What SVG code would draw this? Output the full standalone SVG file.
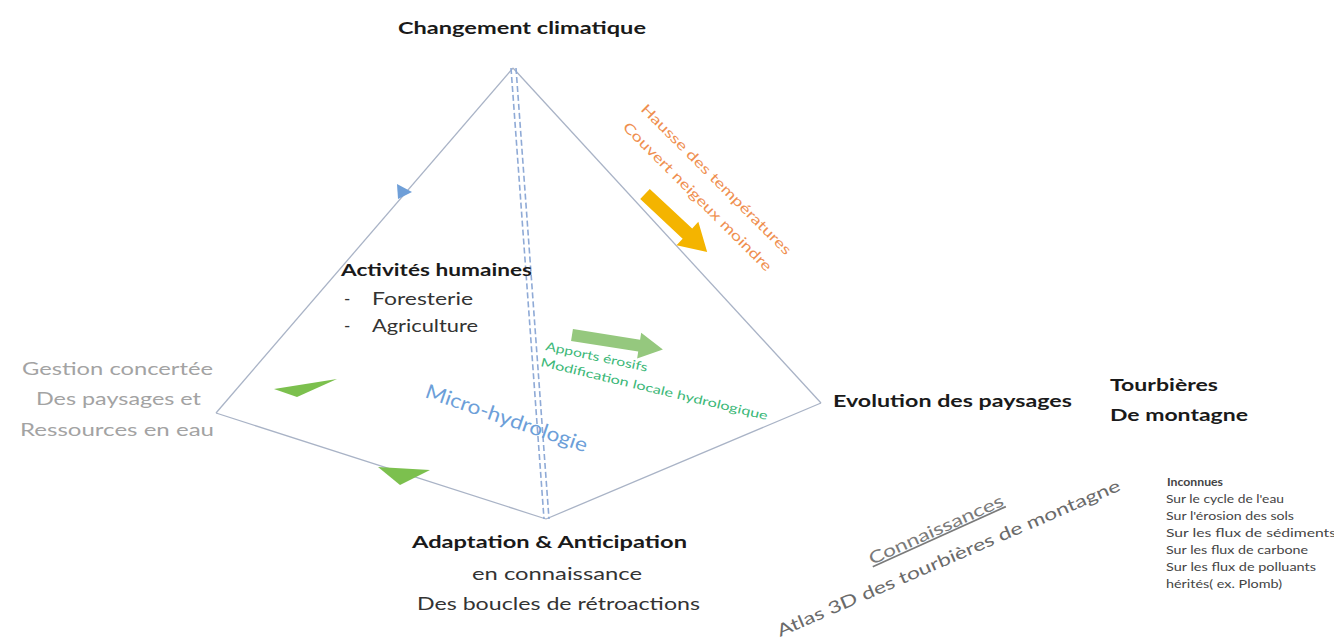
<svg xmlns="http://www.w3.org/2000/svg" width="1334" height="644" viewBox="0 0 1334 644">
<style>
text{font-family:Lato,"Open Sans","Liberation Sans",sans-serif}
.b{font-weight:bold;fill:#1a1a1a;font-size:17px}
.n{fill:#333;font-size:17px}
.g{fill:#a3a3a3;font-size:17px}
.edge{stroke:#a9b3c6;stroke-width:1.3;fill:none}
.dash{stroke:#8faad6;stroke-width:1.6;stroke-dasharray:6 3;fill:none}
.sm{fill:#444;font-size:11.5px}
</style>
<rect width="1334" height="644" fill="#fff"/>
<g id="connectors">
<line class="edge" x1="513" y1="68" x2="216" y2="413"/>
<line class="edge" x1="513" y1="68" x2="821" y2="403"/>
<line class="edge" x1="216" y1="413" x2="546" y2="519"/>
<line class="edge" x1="546" y1="519" x2="821" y2="403"/>
<line class="dash" x1="511" y1="68" x2="544" y2="519"/>
<line class="dash" x1="516" y1="68" x2="549" y2="519"/>
<polygon points="398,199 397,184 412,192" fill="#6f9fd8"/>
<polygon points="274,389 337,379 297,397" fill="#7cc04e"/>
<polygon points="378,467 430,470 400,485" fill="#7cc04e"/>
<polygon transform="translate(645,194) rotate(43)" points="0,-7 58,-7 58,-16 85,0 58,16 58,7 0,7" fill="#f4b400"/>
<polygon transform="translate(572,335) rotate(9)" points="0,-6 68,-6 68,-13 92,0 68,13 68,6 0,6" fill="#95c87e"/>
</g>
<g id="node-changement"><text class="b" x="398" y="34" textLength="248" lengthAdjust="spacingAndGlyphs">Changement climatique</text></g>
<g id="node-activites">
<text class="b" x="341" y="276" textLength="191" lengthAdjust="spacingAndGlyphs">Activités humaines</text>
<text class="n" x="344" y="305">-</text>
<text class="n" x="372" y="305" textLength="101" lengthAdjust="spacingAndGlyphs">Foresterie</text>
<text class="n" x="344" y="332">-</text>
<text class="n" x="372" y="332" textLength="106" lengthAdjust="spacingAndGlyphs">Agriculture</text>
</g>
<g id="node-gestion">
<text class="g" x="22" y="375" textLength="191" lengthAdjust="spacingAndGlyphs">Gestion concertée</text>
<text class="g" x="36" y="405" textLength="165" lengthAdjust="spacingAndGlyphs">Des paysages et</text>
<text class="g" x="20" y="436" textLength="194" lengthAdjust="spacingAndGlyphs">Ressources en eau</text>
</g>
<g id="node-evolution"><text class="b" x="833" y="407" textLength="239" lengthAdjust="spacingAndGlyphs">Evolution des paysages</text></g>
<g id="node-tourbieres">
<text class="b" x="1110" y="391" textLength="108" lengthAdjust="spacingAndGlyphs">Tourbières</text>
<text class="b" x="1110" y="421" textLength="138" lengthAdjust="spacingAndGlyphs">De montagne</text>
</g>
<g id="node-adaptation">
<text class="b" x="412" y="548" textLength="275" lengthAdjust="spacingAndGlyphs">Adaptation &amp; Anticipation</text>
<text class="n" x="472" y="580" textLength="170" lengthAdjust="spacingAndGlyphs">en connaissance</text>
<text class="n" x="417" y="610" textLength="283" lengthAdjust="spacingAndGlyphs">Des boucles de rétroactions</text>
</g>
<g id="label-micro"><text transform="translate(424,397) rotate(19)" x="0" y="0" fill="#6d9fd9" font-size="20" textLength="170" lengthAdjust="spacingAndGlyphs">Micro-hydrologie</text></g>
<g id="label-climat" fill="#ef8f4f" font-size="14">
<text transform="translate(640,110) rotate(45)" textLength="206" lengthAdjust="spacingAndGlyphs">Hausse des températures</text>
<text transform="translate(622,128) rotate(45)" textLength="204" lengthAdjust="spacingAndGlyphs">Couvert neigeux moindre</text>
</g>
<g id="label-apports" fill="#3cb878" font-size="12">
<text transform="translate(545,350) rotate(12)" textLength="104" lengthAdjust="spacingAndGlyphs">Apports érosifs</text>
<text transform="translate(540,366) rotate(13.4)" textLength="233" lengthAdjust="spacingAndGlyphs">Modification locale hydrologique</text>
</g>
<g id="node-connaissances">
<text transform="translate(872,565) rotate(-24.3)" fill="#7a7a7a" font-size="17" text-decoration="underline" textLength="146" lengthAdjust="spacingAndGlyphs">Connaissances</text>
<text transform="translate(780,637) rotate(-23.3)" fill="#6a6a6a" font-size="17" textLength="372" lengthAdjust="spacingAndGlyphs">Atlas 3D des tourbières de montagne</text>
</g>
<g id="node-inconnues">
<text class="sm" x="1167" y="486" font-weight="bold" fill="#222" textLength="56" lengthAdjust="spacingAndGlyphs">Inconnues</text>
<text class="sm" x="1166" y="503" textLength="118" lengthAdjust="spacingAndGlyphs">Sur le cycle de l'eau</text>
<text class="sm" x="1166" y="520" textLength="128" lengthAdjust="spacingAndGlyphs">Sur l'érosion des sols</text>
<text class="sm" x="1166" y="537" textLength="170" lengthAdjust="spacingAndGlyphs">Sur les flux de sédiments</text>
<text class="sm" x="1166" y="554" textLength="142" lengthAdjust="spacingAndGlyphs">Sur les flux de carbone</text>
<text class="sm" x="1166" y="571" textLength="150" lengthAdjust="spacingAndGlyphs">Sur les flux de polluants</text>
<text class="sm" x="1166" y="588" textLength="116" lengthAdjust="spacingAndGlyphs">hérités( ex. Plomb)</text>
</g>
</svg>
